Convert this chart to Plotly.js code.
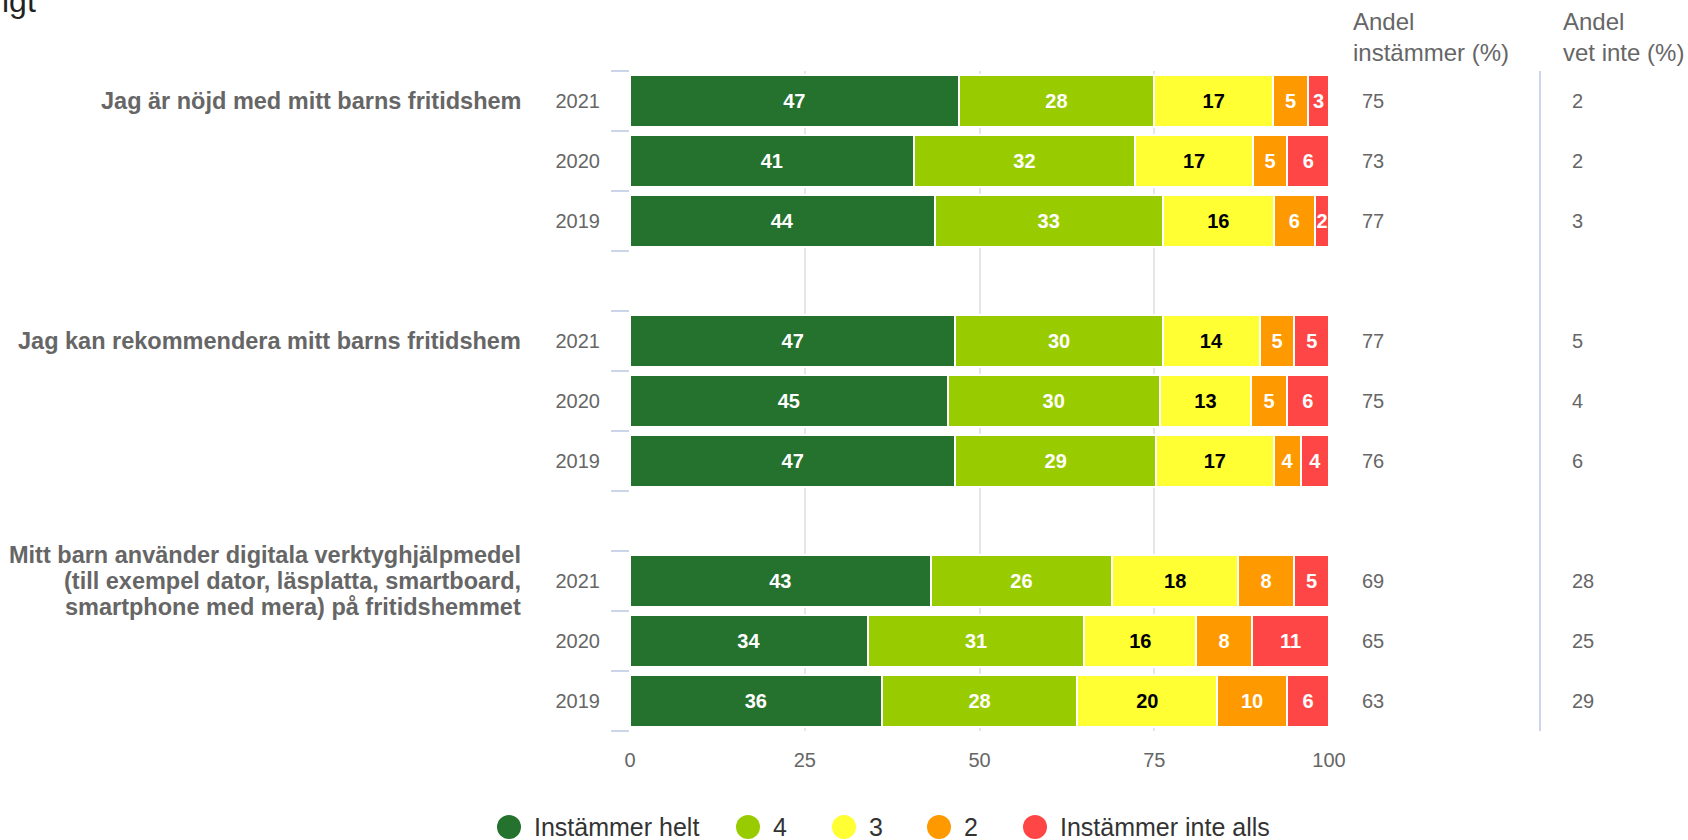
<!DOCTYPE html>
<html>
<head>
<meta charset="utf-8">
<script src="https://cdn.plot.ly/plotly-3.0.1.min.js"></script>
<style>
  html, body { margin: 0; padding: 0; background: #ffffff; }
  #chart { width: 1688px; height: 840px; }
</style>
</head>
<body>
<div id="chart"></div>
<script>
// ---- data ----
const questions = [
  "Jag är nöjd med mitt barns fritidshem",
  "Jag kan rekommendera mitt barns fritidshem",
  "Mitt barn använder digitala verktyghjälpmedel<br>(till exempel dator, läsplatta, smartboard,<br>smartphone med mera) på fritidshemmet"
];
const years = ["2021", "2020", "2019"];
const seriesNames = ["Instämmer helt", "4", "3", "2", "Instämmer inte alls"];
const seriesColors = ["#25722e", "#99cc00", "#ffff33", "#ff9900", "#ff4646"];
const seriesTextColors = ["#ffffff", "#ffffff", "#000000", "#ffffff", "#ffffff"];

// order: question 1 (2021, 2020, 2019), question 2 (...), question 3 (...)
const instammerHelt     = [47, 41, 44,  47, 45, 47,  43, 34, 36];
const varde4            = [28, 32, 33,  30, 30, 29,  26, 31, 28];
const varde3            = [17, 17, 16,  14, 13, 17,  18, 16, 20];
const varde2            = [ 5,  5,  6,   5,  5,  4,   8,  8, 10];
const instammerInteAlls = [ 3,  6,  2,   5,  6,  4,   5, 11,  6];

const andelInstammer = [75, 73, 77,  77, 75, 76,  69, 65, 63];
const andelVetInte   = [ 2,  2,  3,   5,  4,  6,  28, 25, 29];

const colHeaders = ["Andel<br>instämmer (%)", "Andel<br>vet inte (%)"];
const xTicks = [0, 25, 50, 75, 100];

// ---- build category rows (with an empty row between questions) ----
const rowIds = [], rowText = [], rowIndex = [];
questions.forEach((q, qi) => {
  years.forEach((y, yi) => {
    rowIds.push("q" + qi + "_" + y);
    rowText.push(y);
    rowIndex.push(qi * years.length + yi);
  });
  if (qi < questions.length - 1) {
    rowIds.push("gap" + qi);
    rowText.push("");
    rowIndex.push(null);
  }
});
const expand = arr => rowIndex.map(i => (i === null ? null : arr[i]));

const seriesValues = [instammerHelt, varde4, varde3, varde2, instammerInteAlls];
const FONT = "Liberation Sans, Arial, Helvetica, sans-serif";

const traces = seriesValues.map((vals, si) => {
  const xs = expand(vals);
  return {
    type: "bar",
    orientation: "h",
    name: seriesNames[si],
    x: xs,
    y: rowIds,
    text: xs.map(v => (v === null ? "" : String(v))),
    texttemplate: "<b>%{text}</b>",
    textposition: "inside",
    insidetextanchor: "middle",
    textangle: 0,
    textfont: { family: FONT, size: 20, color: seriesTextColors[si] },
    marker: { color: seriesColors[si], line: { color: "#ffffff", width: 2 } },
    hoverinfo: "skip",
    showlegend: false
  };
});
// dummy trace so the boundary-tick axis is drawn
traces.push({ type: "scatter", x: [null], y: [null], yaxis: "y2", hoverinfo: "skip", showlegend: false });

// ---- geometry helpers (pixel -> paper) ----
const W = 1688, H = 840;
const mL = 630, mR = 359, mT = 71, mB = 109;
const plotW = W - mL - mR, plotH = H - mT - mB;
const px = x => (x - mL) / plotW;
const py = y => (H - mB - y) / plotH;

const annotations = [];
const shapes = [];

// cut-off title remnant at the top-left
annotations.push({
  xref: "paper", yref: "paper", x: px(0), y: py(1), xanchor: "left", yanchor: "middle",
  text: "igt", showarrow: false, font: { family: FONT, size: 32, color: "#222222" }
});

// question labels (multi-line labels drawn line by line for tight spacing)
const qLineGap = 26;
questions.forEach((q, qi) => {
  const lines = q.split("<br>");
  lines.forEach((line, li) => {
    annotations.push({
      xref: "paper", yref: "y", x: px(523), y: "q" + qi + "_" + years[0],
      xanchor: "right", yanchor: "middle", align: "right",
      yshift: ((lines.length - 1) / 2 - li) * qLineGap,
      text: "<b>" + line + "</b>",
      showarrow: false, font: { family: FONT, size: 23.5, color: "#666666" }
    });
  });
});

// right-hand columns
const colX = [1351, 1561];
const colValX = [1360, 1570];
[andelInstammer, andelVetInte].forEach((arr, ci) => {
  annotations.push({
    xref: "paper", yref: "paper", x: px(colX[ci]), y: py(37), xanchor: "left", yanchor: "middle",
    align: "left", text: colHeaders[ci], showarrow: false,
    font: { family: FONT, size: 24, color: "#666666" }
  });
  rowIds.forEach((id, ri) => {
    if (rowIndex[ri] === null) return;
    annotations.push({
      xref: "paper", yref: "y", x: px(colValX[ci]), y: id, xanchor: "left", yanchor: "middle",
      text: String(arr[rowIndex[ri]]), showarrow: false,
      font: { family: FONT, size: 20, color: "#666666" }
    });
  });
});
shapes.push({
  type: "line", xref: "paper", yref: "paper", x0: px(1540), x1: px(1540), y0: 1, y1: 0,
  line: { color: "#ccd6eb", width: 2 }
});

// legend (circle markers + labels)
const legCircleX = [509, 748, 844, 939, 1035];
const legY = 827;
seriesNames.forEach((n, si) => {
  shapes.push({
    type: "circle", xref: "paper", yref: "paper",
    xsizemode: "pixel", ysizemode: "pixel",
    xanchor: px(legCircleX[si]), yanchor: py(legY),
    x0: -12, x1: 12, y0: -12, y1: 12,
    fillcolor: seriesColors[si], line: { width: 0 }
  });
  annotations.push({
    xref: "paper", yref: "paper", x: px(legCircleX[si] + 23), y: py(legY),
    xanchor: "left", yanchor: "middle", text: n, showarrow: false,
    font: { family: FONT, size: 25, color: "#333333" }
  });
});

const boundaryTicks = [];
for (let i = 0; i <= rowIds.length; i++) boundaryTicks.push(i - 0.5);

const layout = {
  width: W, height: H,
  margin: { l: mL, r: mR, t: mT, b: mB, pad: 0 },
  paper_bgcolor: "#ffffff", plot_bgcolor: "#ffffff",
  font: { family: FONT, size: 20, color: "#666666" },
  barmode: "stack", barnorm: "percent", bargap: 0.12,
  showlegend: false, hovermode: false,
  uniformtext: { minsize: 20, mode: "show" },
  xaxis: {
    range: [0, 100], tickvals: xTicks, ticktext: xTicks.map(String),
    showgrid: true, gridcolor: "#e6e6e6", gridwidth: 2, zeroline: false, showline: false,
    ticks: "outside", ticklen: 11, tickcolor: "rgba(0,0,0,0)",
    tickfont: { family: FONT, size: 20, color: "#666666" }, fixedrange: true
  },
  yaxis: {
    type: "category", categoryorder: "array", categoryarray: rowIds,
    range: [rowIds.length - 0.5, -0.5],
    tickvals: rowIds, ticktext: rowText,
    ticks: "outside", ticklen: 25, tickcolor: "rgba(0,0,0,0)",
    showgrid: false, zeroline: false, showline: false,
    tickfont: { family: FONT, size: 20, color: "#666666" }, fixedrange: true
  },
  yaxis2: {
    overlaying: "y", anchor: "x", side: "left",
    range: [rowIds.length - 0.5, -0.5],
    tickmode: "array", tickvals: boundaryTicks, showticklabels: false,
    ticks: "outside", ticklen: 18, tickwidth: 2, tickcolor: "#ccd6eb",
    showgrid: false, zeroline: false, showline: false, fixedrange: true
  },
  annotations: annotations,
  shapes: shapes
};

Plotly.newPlot("chart", traces, layout, { staticPlot: true, displayModeBar: false });
</script>
</body>
</html>
